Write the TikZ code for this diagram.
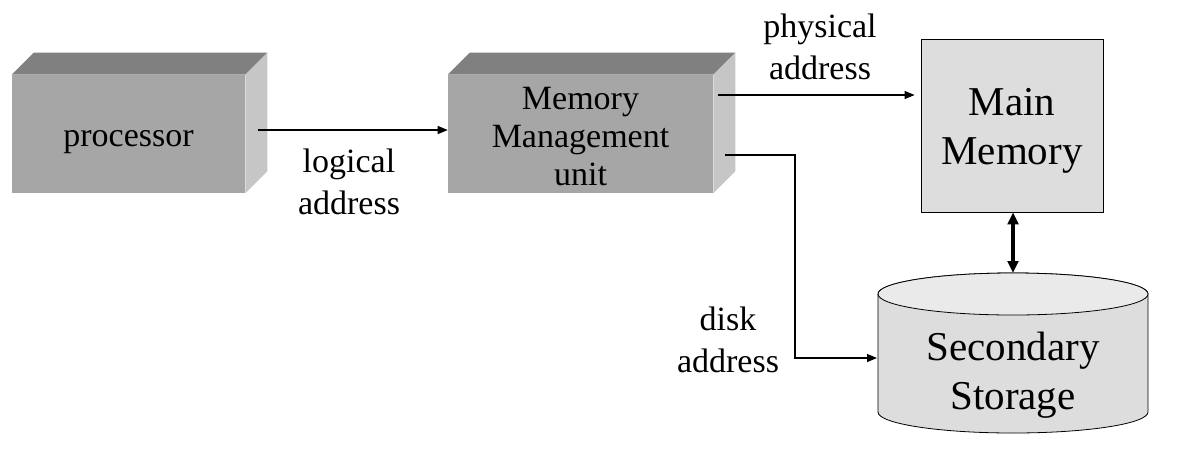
\documentclass[tikz,border=0pt]{standalone}
\usepackage{fontspec}
\setmainfont{Liberation Serif}
\usetikzlibrary{arrows.meta,calc}
\definecolor{frontc}{HTML}{A6A6A6}
\definecolor{topc}{HTML}{808080}
\definecolor{sidec}{HTML}{C6C6C6}
\definecolor{memc}{HTML}{DDDDDD}
\definecolor{cyltop}{HTML}{EAEAEA}
\tikzset{
  frontbox/.style={fill=frontc, draw=none, inner sep=0pt, minimum height=88.5pt},
  boxtext/.style={align=center, inner sep=0pt, font=\fontsize{25.5}{28.5}\selectfont},
  bigbox/.style={fill=memc, draw=black, line width=0.6pt, inner sep=0pt},
  bigtext/.style={align=center, inner sep=0pt, font=\fontsize{30.75}{36.75}\selectfont},
  lbl/.style={align=center, inner sep=0pt, font=\fontsize{25.5}{31.5}\selectfont},
  arr/.style={-{Triangle[length=7.5pt,width=6pt]}, line width=0.8pt},
  dblarr/.style={{Triangle[length=9pt,width=8pt]}-{Triangle[length=9pt,width=8pt]}, line width=2.4pt},
}
\begin{document}
\begin{tikzpicture}[x=0.75pt,y=-0.75pt]
\useasboundingbox (0,0) rectangle (1186,451);
% processor
\node[frontbox, minimum width=174.75pt] (proc) at (128.5,134) {};
\fill[topc] (proc.north west) -- ++(22,-22) -- ($(proc.north east)+(22,-22)$) -- (proc.north east) -- cycle;
\fill[sidec] (proc.north east) -- ++(22,-22) -- ($(proc.south east)+(22,-22)$) -- (proc.south east) -- cycle;
\node[boxtext] (proct) at (128.5,142) {processor};
% MMU
\node[frontbox, minimum width=198.75pt] (mmu) at (580.5,134) {};
\fill[topc] (mmu.north west) -- ++(22,-22) -- ($(mmu.north east)+(22,-22)$) -- (mmu.north east) -- cycle;
\fill[sidec] (mmu.north east) -- ++(22,-22) -- ($(mmu.south east)+(22,-22)$) -- (mmu.south east) -- cycle;
\node[boxtext] (mmut) at (580.5,136.5) {Memory\\Management\\unit};
% Main memory
\node[bigbox, minimum width=136.5pt, minimum height=129.75pt] (mm) at (1012,125.5) {};
\node[bigtext] (mmt) at (1012,130.5) {Main\\Memory};
% Secondary storage cylinder
\filldraw[fill=memc, draw=black, line width=0.6pt] (878,294) -- (878,412)
  arc[start angle=180, end angle=360, x radius=101.25pt, y radius=15.75pt] -- (1148,294)
  arc[start angle=0, end angle=180, x radius=101.25pt, y radius=15.75pt] -- cycle;
\filldraw[fill=cyltop, draw=black, line width=0.6pt] (1013,294) ellipse[x radius=101.25pt, y radius=15.75pt];
\node[bigtext] (sec) at (1013,375.5) {Secondary\\Storage};
\coordinate (secTop) at (1013,273);
\coordinate (secL) at (877,358);
% connectors
\coordinate (a0) at (258,130);
\draw[arr] (a0) -- (a0 -| mmu.west);
\coordinate (a1) at (718,95);
\draw[arr, shorten >=4.5pt] (a1) -- (a1 -| mm.west);
\coordinate (a2) at (725,155);
\draw[arr] (a2) -- ++(70,0) |- (secL);
\draw[dblarr] (mm.south -| secTop) -- (secTop);
% labels
\node[lbl] (l1) at (349,182) {logical\\address};
\node[lbl] (l2) at (820,46.5) {physical\\address};
\node[lbl] (l3) at (728,340) {disk\\address};
\end{tikzpicture}
\end{document}
